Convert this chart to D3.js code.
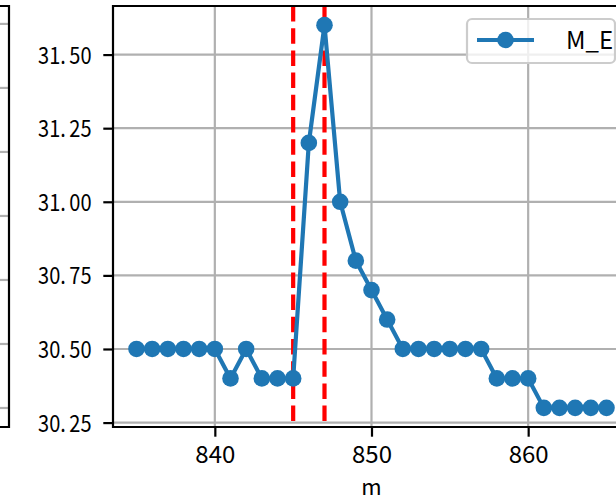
<!DOCTYPE html>
<html><head><meta charset="utf-8">
<script src="https://cdn.jsdelivr.net/npm/d3@7"></script>
<style>body{margin:0;background:#fff}svg{display:block}</style>
</head><body>
<svg id="c" width="616" height="503"></svg>
<script>
const mValues = [835,836,837,838,839,840,841,842,843,844,845,846,847,848,849,850,851,852,853,854,855,856,857,858,859,860,861,862,863,864,865];
const meValues = [30.5,30.5,30.5,30.5,30.5,30.5,30.4,30.5,30.4,30.4,30.4,31.2,31.6,31.0,30.8,30.7,30.6,30.5,30.5,30.5,30.5,30.5,30.5,30.4,30.4,30.4,30.3,30.3,30.3,30.3,30.3];
const vLines = [845, 847];
const xTicks = [840, 850, 860];
const yTicks = [30.25, 30.5, 30.75, 31.0, 31.25, 31.5];
const leftGridTicks = [0,1,2,3,4,5,6];
const seriesName = "M_E";
const xLabel = "m";

const svg = d3.select("#c");
const FONT = "'Noto Sans CJK JP', 'DejaVu Sans', sans-serif";
const L = 113, R = 630, T = 6, B = 427;
const x = d3.scaleLinear().domain([833.5, 866.5]).range([L, R]);
const y = d3.scaleLinear().domain([30.235, 31.665]).range([B, T]);

// partial left panel
const yl = d3.scaleLinear().domain([-0.297, 6.28]).range([B, T]);
const lp = svg.append("g");
lp.selectAll("line.g").data(leftGridTicks).join("line")
  .attr("x1", 0).attr("x2", 9).attr("y1", d=>yl(d)).attr("y2", d=>yl(d))
  .attr("stroke", "#b0b0b0").attr("stroke-width", 2.2);
lp.append("path").attr("d", `M0,${T}H9V${B}H0`).attr("fill","none").attr("stroke","#000").attr("stroke-width",2.2);

// main panel
svg.append("defs").append("clipPath").attr("id","clip").append("rect")
  .attr("x", L).attr("y", T).attr("width", R-L).attr("height", B-T);

const grid = svg.append("g");
grid.selectAll("line.gx").data(xTicks).join("line")
  .attr("x1", d=>x(d)).attr("x2", d=>x(d)).attr("y1", T).attr("y2", B)
  .attr("stroke", "#b0b0b0").attr("stroke-width", 2.2);
grid.selectAll("line.gy").data(yTicks).join("line")
  .attr("x1", L).attr("x2", R).attr("y1", d=>y(d)).attr("y2", d=>y(d))
  .attr("stroke", "#b0b0b0").attr("stroke-width", 2.2);

const plot = svg.append("g").attr("clip-path", "url(#clip)");
plot.selectAll("line.v").data(vLines).join("line")
  .attr("x1", d=>x(d)).attr("x2", d=>x(d)).attr("y1", T).attr("y2", B)
  .attr("stroke", "#ff0000").attr("stroke-width", 4.2).attr("stroke-dasharray", "15.5,6.7");

const pts = mValues.map((m,i)=>[m, meValues[i]]);
plot.append("path").datum(pts)
  .attr("d", d3.line().x(d=>x(d[0])).y(d=>y(d[1])))
  .attr("fill","none").attr("stroke","#1f77b4").attr("stroke-width",4.2).attr("stroke-linejoin","round");
plot.selectAll("circle").data(pts).join("circle")
  .attr("cx", d=>x(d[0])).attr("cy", d=>y(d[1])).attr("r", 8.3).attr("fill","#1f77b4");

// axes
const xa = d3.axisBottom(x).tickValues(xTicks).tickSize(9.7).tickPadding(9).tickFormat(d3.format("d"));
const ya = d3.axisLeft(y).tickValues(yTicks).tickSize(9.7).tickPadding(12).tickFormat(d3.format(".2f"));
const gx = svg.append("g").attr("transform", `translate(0,${B})`).call(xa);
const gy = svg.append("g").attr("transform", `translate(${L},0)`).call(ya);
[gx, gy].forEach(g => {
  g.select(".domain").remove();
  g.selectAll(".tick line").attr("stroke","#000").attr("stroke-width",2.2);
  g.selectAll(".tick text").attr("font-family", FONT).attr("font-size", 24).attr("fill","#000");
});
gx.selectAll(".tick text").attr("dy", null).attr("y", 36);
const sx = 0.87;
gy.selectAll(".tick text").attr("dy", null).attr("y", 8.5).attr("font-size", 23)
  .attr("transform", `scale(${sx},1)`).attr("x", -21.5 / sx).each(function(d){
  const s = d3.format(".2f")(d).split(".");
  const t = d3.select(this).text(null);
  t.append("tspan").text(s[0] + ".");
  t.append("tspan").attr("dx", 4).text(s[1]);
});

// spines
svg.append("path").attr("d", `M${R},${T}H${L}V${B}H${R}`).attr("fill","none").attr("stroke","#000").attr("stroke-width",2.2);

// x label
svg.append("text").attr("x", (L+R)/2).attr("y", 495).attr("text-anchor","middle")
  .attr("font-family", FONT).attr("font-size", 22).text(xLabel);

// legend
const lg = svg.append("g");
lg.append("rect").attr("x", 467).attr("y", 19).attr("width", 148).attr("height", 44).attr("rx", 5)
  .attr("fill", "#fff").attr("fill-opacity", 0.8).attr("stroke", "#cccccc").attr("stroke-width", 2.2);
lg.append("line").attr("x1", 477).attr("x2", 534).attr("y1", 40).attr("y2", 40)
  .attr("stroke","#1f77b4").attr("stroke-width",4.2);
lg.append("circle").attr("cx", 505.5).attr("cy", 40).attr("r", 8.3).attr("fill","#1f77b4");
lg.append("text").attr("x", 566).attr("y", 48.5).attr("font-family", FONT).attr("font-size", 24).text(seriesName);
</script>
</body></html>
